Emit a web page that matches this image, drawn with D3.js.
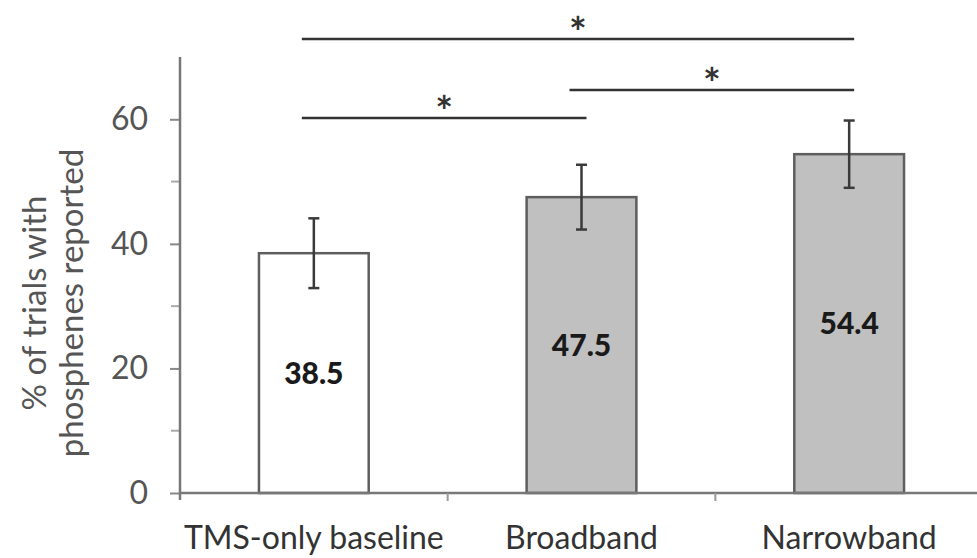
<!DOCTYPE html>
<html><head><meta charset="utf-8">
<script src="https://cdn.jsdelivr.net/npm/d3@7"></script>
<style>body{margin:0;background:#fff}svg{display:block}text{font-family:Lato,"Open Sans",sans-serif}</style>
</head><body>
<svg id="c" width="977" height="558"></svg>
<script>
const categories = ["TMS-only baseline", "Broadband", "Narrowband"];
const values = [38.5, 47.5, 54.4];
const errors = [5.6, 5.2, 5.4];
const fills = ["#ffffff", "#c0c0c0", "#c0c0c0"];
const majorTicks = [0, 20, 40, 60];
const minorTicks = [10, 30, 50];
const comparisons = [ {a:0, b:2, y:72.9, label:"*"}, {a:1, b:2, y:64.7, label:"*"}, {a:0, b:1, y:60.2, label:"*"} ];
const yTitle = ["% of trials with", "phosphenes reported"];

const svg = d3.select("#c");
const x = d3.scaleBand().domain(categories).range([180, 983]).padding(0);
const y = d3.scaleLinear().domain([0, 70]).range([493, 57]);
const bw = x.bandwidth() * 0.41;
const cx = c => x(c) + x.bandwidth() / 2;

// y axis
const ya = svg.append("g").attr("transform", "translate(180,0)")
  .call(d3.axisLeft(y).tickValues(majorTicks).tickSize(10).tickPadding(10).tickSizeOuter(0));
ya.select(".domain").remove();
ya.selectAll(".tick line").attr("stroke", "#888").attr("stroke-width", 2);
ya.selectAll(".tick text").attr("font-size", 32).attr("fill", "#555").attr("dx", "-12");
svg.append("g").attr("transform", "translate(180,0)").selectAll("line").data(minorTicks).join("line")
  .attr("x1", -9).attr("x2", 0).attr("y1", d => y(d)).attr("y2", d => y(d)).attr("stroke", "#aaa").attr("stroke-width", 2);
svg.append("line").attr("x1", 180).attr("x2", 180).attr("y1", y(70)).attr("y2", y(0) + 7).attr("stroke", "#777").attr("stroke-width", 2.5);

// y title
const yt = svg.append("text").attr("transform", `translate(0,303) rotate(-90)`).attr("text-anchor", "middle").attr("font-size", 33).attr("fill", "#555");
yt.selectAll("tspan").data(yTitle).join("tspan").attr("x", 0).attr("y", (d, i) => i === 0 ? 46 : 83).text(d => d);

// bars
svg.selectAll("rect.bar").data(categories).join("rect").attr("class", "bar")
  .attr("x", d => cx(d) - bw / 2).attr("width", bw)
  .attr("y", (d, i) => y(values[i])).attr("height", (d, i) => y(0) - y(values[i]))
  .attr("fill", (d, i) => fills[i]).attr("stroke", "#5e5e5e").attr("stroke-width", 2.5);

// x axis
svg.append("line").attr("x1", 180).attr("x2", 977).attr("y1", y(0)).attr("y2", y(0)).attr("stroke", "#777").attr("stroke-width", 2.5);
svg.selectAll("line.bt").data(categories.slice(1)).join("line").attr("class", "bt")
  .attr("x1", d => x(d)).attr("x2", d => x(d)).attr("y1", y(0)).attr("y2", y(0) + 8).attr("stroke", "#999").attr("stroke-width", 2);
const xa = svg.append("g").attr("transform", `translate(0,${y(0)})`).call(d3.axisBottom(x).tickSize(0).tickPadding(56));
xa.select(".domain").remove();
xa.selectAll(".tick text").attr("font-size", 32).attr("fill", "#333").attr("dy", "0");

// error bars
const eb = svg.append("g").attr("stroke", "#3a3a3a").attr("stroke-width", 2.5);
categories.forEach((c, i) => {
  const hi = y(values[i] + errors[i]), lo = y(values[i] - errors[i]);
  eb.append("line").attr("x1", cx(c)).attr("x2", cx(c)).attr("y1", hi).attr("y2", lo);
  eb.append("line").attr("x1", cx(c) - 5.5).attr("x2", cx(c) + 5.5).attr("y1", hi).attr("y2", hi);
  eb.append("line").attr("x1", cx(c) - 5.5).attr("x2", cx(c) + 5.5).attr("y1", lo).attr("y2", lo);
});

// value labels
svg.selectAll("text.vl").data(categories).join("text").attr("class", "vl")
  .attr("x", d => cx(d)).attr("y", (d, i) => y(values[i] / 2)).attr("dy", "0.36em")
  .attr("text-anchor", "middle").attr("font-size", 30).attr("font-weight", "900").attr("fill", "#1a1a1a")
  .text((d, i) => values[i].toFixed(1));

// significance
comparisons.forEach(cmp => {
  const x1 = cx(categories[cmp.a]) - 12, x2 = cx(categories[cmp.b]) + 5;
  svg.append("line").attr("x1", x1).attr("x2", x2).attr("y1", y(cmp.y)).attr("y2", y(cmp.y)).attr("stroke", "#333").attr("stroke-width", 2.5);
  svg.append("text").attr("x", (x1 + x2) / 2).attr("y", y(cmp.y) + 9).attr("text-anchor", "middle")
    .attr("font-size", 42).attr("font-weight", "bold").attr("fill", "#333").text(cmp.label);
});
</script>
</body></html>
